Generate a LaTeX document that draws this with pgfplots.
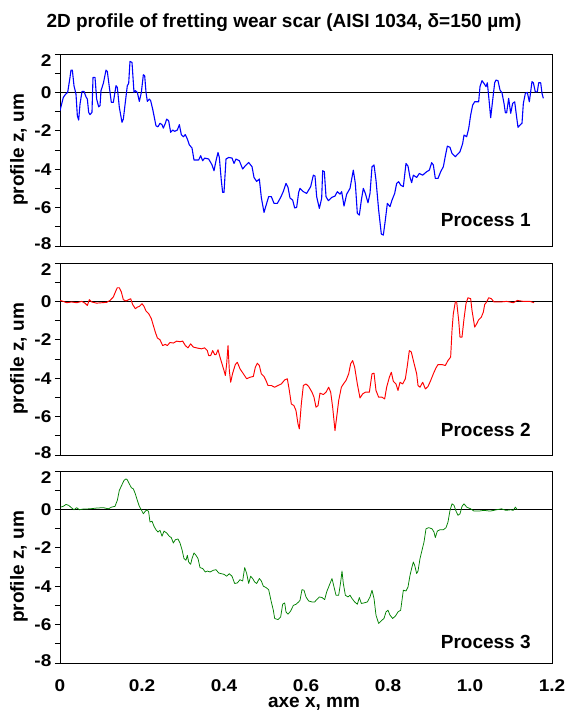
\documentclass[border=0pt]{standalone}
\usepackage{fontspec}
\setmainfont{Liberation Sans}
\usepackage{pgfplots}
\pgfplotsset{compat=1.18}
\definecolor{pblue}{RGB}{0,0,255}
\definecolor{pred}{RGB}{255,0,0}
\definecolor{pgreen}{RGB}{0,128,0}
\newcommand{\tickfont}{\bfseries\fontsize{17}{17}\selectfont}
\newcommand{\labfont}{\bfseries\fontsize{19}{19}\selectfont}
\pgfplotsset{
  panel/.style={
    scale only axis, width=492pt, height=192pt,
    xmin=0, xmax=1.2, ymin=-8, ymax=2,
    xtick={0,0.2,0.4,0.6,0.8,1.0,1.2},
    xticklabels={},
    ytick={-8,-6,-4,-2,0,2},
    yticklabels={\raisebox{3pt}{-8},-6,-4,-2,0,\raisebox{-6pt}{2}},
    minor ytick={-7,-5,-3,-1,1},
    ytick pos=left, xtick pos=bottom,
    xtick style={draw=none},
    ytick align=outside,
    major tick length=5pt, minor tick length=5pt,
    tick style={black, line width=0.8pt},
    minor tick style={black, line width=0.8pt},
    axis line style={black, line width=0.8pt},
    yticklabel style={font=\tickfont, anchor=base east, inner sep=0pt, xscale=1.12, xshift=-3pt, yshift=-6.1pt},
    clip mode=individual,
    every axis plot/.append style={line join=round},
  }
}
\begin{document}
\begin{tikzpicture}
\path (0pt,0pt) rectangle (570pt,711pt);
\node[anchor=base, font=\labfont, inner sep=0pt] at (284pt,683pt) {2D profile of fretting wear scar (AISI 1034, δ=150 µm)};
% ---------- Panel 1 ----------
\begin{axis}[panel, at={(60pt,465pt)}, anchor=south west]
\addplot[black, line width=0.8pt] coordinates {(0,0) (1.2,0)};
\addplot[pblue, line width=1.1pt] coordinates {
(0,-0.95) (0.0081,-0.26) (0.0138,-0.09) (0.0187,0) (0.0244,0.78) (0.0268,1.16) (0.0301,1.16) (0.0341,0.35) (0.039,-0.09) (0.0423,-1.22) (0.0455,-1.44) (0.0488,-0.61) (0.0537,0.05) (0.0585,0.05) (0.0634,-0.23) (0.0667,-0.35) (0.0699,-1.04) (0.0732,-1.16) (0.078,-1.04) (0.0805,0.78) (0.0854,0.78) (0.0894,-0.35) (0.0943,-0.75) (0.0976,-0.69) (0.1,0.09) (0.1057,0.47) (0.1122,1.16) (0.1154,1.09) (0.122,0) (0.1252,-0.52) (0.1301,-0.52) (0.1366,0.35) (0.1398,0.26) (0.1447,-0.78) (0.1512,-1.56) (0.1545,-1.39) (0.1593,-0.52) (0.1642,0.35) (0.1675,0.47) (0.1707,1.61) (0.1756,1.56) (0.1805,0) (0.1837,0.09) (0.1886,0) (0.1935,-0.47) (0.1984,0) (0.2033,0.92) (0.2065,0.87) (0.2098,0) (0.213,-0.47) (0.2179,-0.35) (0.2211,-0.43) (0.226,-0.87) (0.2293,-1.22) (0.2341,-1.74) (0.239,-1.79) (0.2439,-1.61) (0.2488,-1.68) (0.252,-1.86) (0.2569,-1.61) (0.2602,-1.39) (0.265,-1.48) (0.2699,-2.08) (0.2748,-1.96) (0.2797,-2.03) (0.2862,-1.96) (0.2911,-1.68) (0.2959,-2.20) (0.3008,-2.31) (0.3057,-2.20) (0.3106,-2.43) (0.3154,-2.73) (0.322,-2.90) (0.3268,-3.52) (0.3382,-3.52) (0.3431,-3.30) (0.348,-3.56) (0.3528,-3.42) (0.3626,-3.47) (0.3707,-3.77) (0.3756,-4.08) (0.3805,-3.56) (0.3854,-3.13) (0.3886,-3.39) (0.3935,-4.60) (0.3967,-5.21) (0.4,-5.21) (0.4049,-3.47) (0.4114,-3.39) (0.4195,-3.42) (0.4244,-3.70) (0.4293,-3.47) (0.4374,-3.56) (0.4455,-3.99) (0.452,-3.82) (0.4602,-3.65) (0.4683,-3.87) (0.4732,-4.43) (0.4797,-4.64) (0.4862,-4.51) (0.491,-5.47) (0.4976,-6.25) (0.5024,-5.90) (0.5089,-5.43) (0.5154,-5.43) (0.522,-5.78) (0.5301,-5.78) (0.5382,-5.47) (0.5447,-5.16) (0.5512,-4.74) (0.5561,-4.95) (0.561,-5.50) (0.5675,-5.61) (0.5724,-6.02) (0.5772,-5.99) (0.5821,-5.21)
(0.5854,-5.00) (0.5935,-5.17) (0.6016,-5.26) (0.6114,-4.91) (0.6179,-4.31) (0.622,-4.36) (0.626,-5.43) (0.6325,-6.04) (0.6382,-5.52) (0.6407,-4.08) (0.6447,-4.13) (0.6488,-5.43) (0.6545,-5.64) (0.6626,-5.47) (0.6707,-5.40) (0.6764,-5.17) (0.6829,-5.30) (0.687,-5.17) (0.6927,-5.92) (0.6992,-5.30) (0.7073,-5.00) (0.7154,-4.05) (0.7203,-4.74) (0.7252,-6.30) (0.7301,-6.39) (0.735,-5.61) (0.7398,-5.00) (0.7447,-5.26) (0.7512,-5.75) (0.7561,-5.26) (0.761,-3.87) (0.7659,-3.78) (0.7707,-4.57) (0.7772,-6.13) (0.7837,-7.38) (0.7886,-7.43) (0.7935,-6.65) (0.7984,-5.78) (0.8049,-5.95) (0.8098,-5.61) (0.8163,-5.26) (0.8211,-4.74) (0.826,-4.65) (0.8309,-4.83) (0.8374,-4.91) (0.8439,-3.70) (0.8488,-3.84) (0.8537,-4.43) (0.8577,-4.70) (0.8618,-4.31) (0.8699,-4.43) (0.8764,-4.22) (0.8846,-4.31) (0.8943,-4.13) (0.9008,-4.05) (0.9065,-3.66) (0.9106,-3.78) (0.9154,-4.48) (0.922,-4.48) (0.9285,-4.13) (0.935,-3.87) (0.9398,-3.32) (0.9447,-2.80) (0.9512,-2.86) (0.9561,-3.18) (0.9642,-3.35) (0.9756,-3.09) (0.9821,-2.66) (0.9854,-2.22) (0.9919,-2.31) (0.9968,-1.88) (1.0016,-1.18) (1.0065,-0.66) (1.0114,-0.49) (1.0211,-0.49) (1.0244,0.30) (1.0293,0.61) (1.0341,0.47) (1.039,0.30) (1.0423,0.50) (1.0472,-0.57) (1.0504,-1.32) (1.0553,-0.40) (1.0602,0.50) (1.0634,0.64) (1.0683,0.61) (1.0732,0.12) (1.078,-0.02) (1.0829,-0.57) (1.0862,-1.06) (1.0894,-1.06) (1.0943,-0.31) (1.0992,-1.09) (1.1041,-0.57) (1.109,-0.49) (1.1138,-1.30) (1.1171,-1.82) (1.122,-1.70) (1.1268,-1.61) (1.1301,-0.57) (1.135,-0.05) (1.1398,0) (1.1447,-0.49) (1.1512,0.56) (1.1545,0.50) (1.1593,0.03) (1.1642,0.03) (1.1675,0.50) (1.1724,0.50) (1.1756,-0.05) (1.1789,-0.31)
};
\node[anchor=base east, font=\labfont, inner sep=0pt] at (rel axis cs:0.957,0.104) {Process 1};
\end{axis}
% ---------- Panel 2 ----------
\begin{axis}[panel, at={(60pt,256pt)}, anchor=south west]
\addplot[black, line width=0.8pt] coordinates {(0,0) (1.2,0)};
\addplot[pred, line width=0.95pt] coordinates {
(0,0.05) (0.0081,0) (0.0163,-0.07) (0.0285,-0.03) (0.0407,-0.07) (0.0528,0) (0.061,-0.09) (0.0667,-0.21) (0.0715,0.09) (0.0772,-0.03) (0.0894,-0.09) (0.1016,-0.07) (0.1138,-0.05) (0.122,0.05) (0.1301,0.23) (0.1366,0.57) (0.1398,0.71) (0.1447,0.71) (0.1496,0.49) (0.1545,0.09) (0.161,0.02) (0.1675,0.09) (0.1724,0.14) (0.1772,-0.16) (0.1837,-0.38) (0.1886,-0.30) (0.1935,-0.26) (0.2,-0.12) (0.2049,-0.26) (0.2098,-0.50) (0.2163,-0.64) (0.2228,-0.90) (0.2276,-1.25) (0.2325,-1.60) (0.2374,-1.90) (0.2439,-2.00) (0.2504,-2.30) (0.2569,-2.24) (0.2618,-2.30) (0.2683,-2.14) (0.2764,-2.17) (0.2846,-2.07) (0.2927,-2.10) (0.2992,-2.07) (0.3057,-2.30) (0.3122,-2.42) (0.3187,-2.21) (0.3252,-2.38) (0.335,-2.43) (0.3447,-2.47) (0.3528,-2.42) (0.3593,-2.56) (0.3626,-2.82) (0.3675,-2.82) (0.3724,-2.56) (0.3772,-2.77) (0.3805,-2.77) (0.3854,-2.52) (0.3902,-2.90) (0.3951,-3.25) (0.4,-3.60) (0.4033,-3.86) (0.4065,-3.25) (0.4098,-2.30) (0.413,-3.60) (0.4163,-4.21) (0.4211,-3.74) (0.4276,-3.29) (0.4325,-3.17) (0.439,-3.51) (0.4472,-3.77) (0.4553,-4.03) (0.4634,-3.95) (0.4715,-3.91) (0.4764,-3.43) (0.4813,-3.22) (0.4862,-3.34) (0.491,-3.77) (0.4976,-3.91) (0.5024,-4.12) (0.5073,-4.38) (0.5154,-4.38) (0.5236,-4.47) (0.5317,-4.38) (0.5398,-4.30) (0.548,-4.09) (0.5545,-4.03) (0.5593,-4.64) (0.5642,-5.34) (0.5707,-5.43) (0.5756,-5.69) (0.5805,-6.38) (0.5837,-6.64)
(0.5886,-5.34) (0.5935,-4.38) (0.6,-4.30) (0.6065,-4.43) (0.6146,-4.73) (0.6195,-4.99) (0.6244,-5.51) (0.6293,-5.43) (0.6341,-4.78) (0.6423,-4.85) (0.6488,-4.73) (0.6553,-4.47) (0.6602,-4.73) (0.665,-5.51) (0.6707,-6.73) (0.6748,-6.03) (0.6797,-5.17) (0.6862,-4.47) (0.6927,-4.26) (0.6976,-4.12) (0.7041,-3.77) (0.7089,-3.25) (0.7138,-3.08) (0.7187,-3.43) (0.7252,-4.30) (0.7317,-5.03) (0.7382,-4.82) (0.7447,-4.73) (0.7545,-4.73) (0.761,-3.77) (0.7659,-3.74) (0.7707,-4.64) (0.7772,-4.99) (0.7854,-4.99) (0.7919,-5.08) (0.7967,-4.47) (0.8033,-3.95) (0.8081,-3.69) (0.813,-4.16) (0.8195,-4.30) (0.8244,-4.64) (0.8293,-4.21) (0.8358,-4.30) (0.8423,-4.03) (0.8472,-3.34) (0.852,-2.56) (0.8569,-2.64) (0.8634,-3.22) (0.8699,-3.77) (0.8732,-4.38) (0.878,-4.47) (0.8846,-4.21) (0.8911,-4.56) (0.8976,-4.43) (0.9041,-4.12) (0.9106,-3.77) (0.9171,-3.46) (0.922,-3.29) (0.9317,-3.29) (0.9398,-3.34) (0.9463,-3.08) (0.9528,-2.90) (0.9561,-1.51) (0.9593,-0.64) (0.9642,-0.03) (0.9675,-0.03) (0.9724,-0.99) (0.9756,-1.86) (0.9805,-1.86) (0.9854,-0.90) (0.9902,-0.12) (0.9951,0.19) (1.0016,0.14) (1.0049,-0.47) (1.0114,-1.34) (1.0163,-1.17) (1.0211,-0.96) (1.0276,-0.82) (1.0325,-0.56) (1.0358,-0.16) (1.0407,-0.03) (1.0455,0.19) (1.052,0.14) (1.0585,-0.03) (1.0732,-0.03) (1.0894,0) (1.1057,-0.07) (1.1154,0.05) (1.1301,0) (1.1463,0) (1.1561,-0.07)
};
\node[anchor=base east, font=\labfont, inner sep=0pt] at (rel axis cs:0.957,0.094) {Process 2};
\end{axis}
% ---------- Panel 3 ----------
\begin{axis}[panel, at={(60pt,48pt)}, anchor=south west,
  xticklabels={0,0.2,0.4,0.6,0.8,1.0,1.2},
  xticklabel style={font=\tickfont, anchor=base, inner sep=0pt, xscale=1.12, yshift=-28.5pt}]
\addplot[black, line width=0.8pt] coordinates {(0,0) (1.2,0)};
\addplot[pgreen, line width=0.75pt] coordinates {
(0.0016,0.12) (0.0081,0.16) (0.0146,0.26) (0.0211,0.21) (0.0276,0.09) (0.0341,-0.02) (0.0407,0.09) (0.0472,-0.02) (0.0569,0.02) (0.0732,0.03) (0.0894,0.07) (0.1057,0.09) (0.1179,0.03) (0.126,0.12) (0.1341,0.16) (0.1398,0.47) (0.1447,0.99) (0.1504,1.25) (0.1561,1.51) (0.161,1.59) (0.1642,1.54) (0.1691,1.33) (0.174,1.13) (0.1789,1.07) (0.1837,0.81) (0.1886,0.47) (0.1935,0.16) (0.1984,-0.02) (0.2033,-0.23) (0.2081,-0.09) (0.213,-0.02) (0.2163,-0.14) (0.2195,-0.66) (0.2244,-0.61) (0.2293,-0.88) (0.2341,-1.06) (0.239,-1.18) (0.2439,-1.09) (0.2488,-1.40) (0.2537,-1.13) (0.2602,-1.23) (0.2667,-1.40) (0.2715,-1.47) (0.2764,-1.75) (0.2813,-1.58) (0.2878,-1.54) (0.2927,-1.75) (0.2976,-2.10) (0.3024,-2.56) (0.3073,-2.65) (0.3106,-2.39) (0.3138,-2.74) (0.3187,-2.86) (0.322,-2.56) (0.3268,-2.27) (0.3317,-2.39) (0.3366,-2.56) (0.3415,-3.03) (0.348,-3.08) (0.3545,-3.26) (0.3593,-3.21) (0.3659,-3.26) (0.374,-3.17) (0.3805,-3.14) (0.387,-3.31) (0.3935,-3.35) (0.4,-3.38) (0.4065,-3.48) (0.413,-3.35) (0.4195,-3.48) (0.426,-3.86) (0.4325,-3.83) (0.439,-3.66) (0.4455,-3.73) (0.4504,-3.03) (0.4553,-3.34) (0.4602,-3.86) (0.465,-3.48) (0.4699,-3.60) (0.4748,-3.78) (0.4797,-3.86) (0.4862,-3.60) (0.4911,-3.73) (0.4959,-4.00) (0.5024,-4.07) (0.5089,-4.18) (0.5154,-4.82) (0.5203,-5.25) (0.5236,-5.68) (0.5317,-5.74) (0.5382,-5.60) (0.5431,-4.94) (0.548,-4.87) (0.5512,-5.34) (0.5561,-5.46) (0.5626,-5.29) (0.5691,-5.00) (0.5756,-4.94) (0.5821,-4.82)
(0.5854,-4.73) (0.5902,-4.18) (0.5951,-4.21) (0.6,-4.56) (0.6065,-4.77) (0.6146,-4.82) (0.6211,-4.82) (0.626,-4.70) (0.6325,-4.56) (0.639,-4.59) (0.6455,-4.70) (0.6504,-4.30) (0.6569,-3.95) (0.6634,-3.60) (0.6683,-4.04) (0.6732,-4.47) (0.6797,-4.47) (0.6846,-3.78) (0.6878,-3.21) (0.6911,-3.87) (0.696,-4.47) (0.7024,-4.56) (0.7073,-4.47) (0.7122,-4.64) (0.7187,-4.82) (0.7252,-4.94) (0.7301,-4.59) (0.735,-4.90) (0.7415,-4.87) (0.7496,-4.82) (0.7561,-4.56) (0.761,-4.21) (0.7659,-4.64) (0.7707,-5.51) (0.7772,-5.94) (0.7837,-5.80) (0.7902,-5.68) (0.7951,-5.34) (0.8,-5.25) (0.8049,-5.51) (0.8114,-5.68) (0.8179,-5.56) (0.8244,-5.34) (0.8309,-5.25) (0.8374,-4.21) (0.8439,-4.25) (0.8488,-4.04) (0.8537,-3.43) (0.8585,-3.00) (0.8618,-2.74) (0.865,-2.91) (0.8699,-3.34) (0.8732,-3.21) (0.878,-2.57) (0.8829,-2.13) (0.8878,-1.70) (0.8927,-1.01) (0.8992,-0.95) (0.9073,-1.01) (0.9122,-1.18) (0.9154,-1.47) (0.9203,-1.13) (0.9268,-1.06) (0.935,-1.06) (0.9415,-0.95) (0.9463,-0.66) (0.9512,-0.05) (0.9561,0.29) (0.961,0.21) (0.9659,-0.09) (0.9707,-0.31) (0.9756,-0.23) (0.9805,0.16) (0.9854,0.29) (0.9919,0.12) (1.0016,0.03) (1.0098,-0.09) (1.0211,-0.09) (1.0341,-0.05) (1.0488,-0.09) (1.065,-0.02) (1.0764,0.03) (1.0878,-0.05) (1.0992,-0.02) (1.1057,-0.05) (1.1106,0.12) (1.1154,-0.02)
};
\node[anchor=base east, font=\labfont, inner sep=0pt] at (rel axis cs:0.957,0.078) {Process 3};
\end{axis}
\node[rotate=90, anchor=center, font=\labfont, inner sep=0pt] at (19pt,561pt) {profile z, um};
\node[rotate=90, anchor=center, font=\labfont, inner sep=0pt] at (19pt,352pt) {profile z, um};
\node[rotate=90, anchor=center, font=\labfont, inner sep=0pt] at (19pt,144pt) {profile z, um};
\node[anchor=base, font=\labfont, inner sep=0pt] at (314pt,3pt) {axe x, mm};
\end{tikzpicture}
\end{document}
